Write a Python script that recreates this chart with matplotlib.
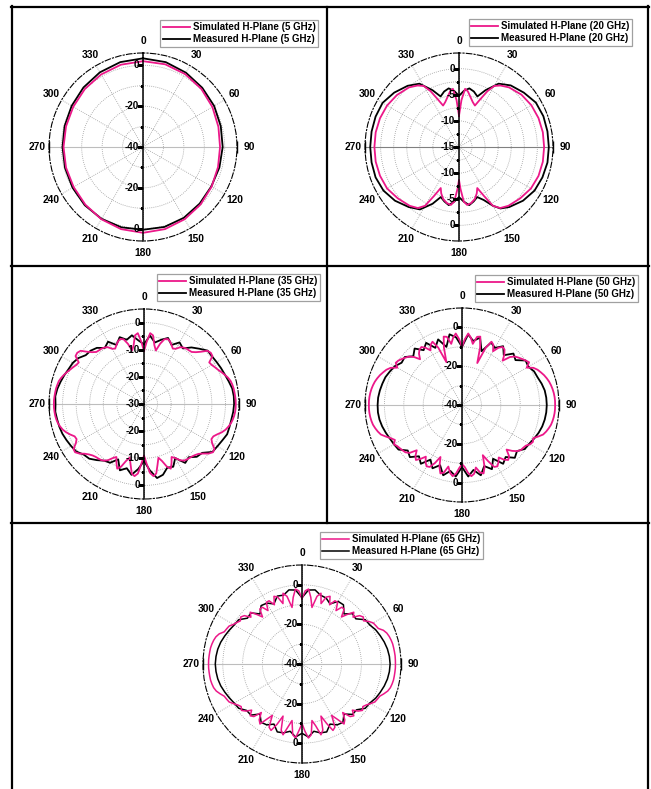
import numpy as np
import matplotlib
matplotlib.use("Agg")
import matplotlib.pyplot as plt
from matplotlib.lines import Line2D

plt.rcParams['font.family'] = ['Liberation Sans', 'DejaVu Sans']
plt.rcParams['font.weight'] = 'bold'

# ---------------------------------------------------------------- data
THETA_TICKS = [0, 30, 60, 90, 120, 150, 180, 210, 240, 270, 300, 330]

# 5 GHz (15 deg steps)
ANG_5 = [0, 15, 30, 45, 60, 75, 90, 105, 120, 135, 150, 165,
         180, 195, 210, 225, 240, 255, 270, 285, 300, 315, 330, 345]
SIM_5 = [2.0, 1.9, 1.2, 0.3, -0.8, -1.8, -2.3, -2.0, -1.2, -0.2, 0.8, 1.6,
         2.0, 1.6, 0.8, -0.1, -0.8, -1.0, -1.1, -1.0, -0.6, 0.2, 1.0, 1.7]
MEAS_5 = [3.4, 3.0, 2.0, 1.0, 0.2, -0.6, -1.0, -1.3, -1.4, -0.8, 0.0, 0.5,
          0.5, 0.7, 0.6, 0.3, -0.2, -0.5, -0.6, -0.3, 0.3, 1.2, 2.2, 3.0]

# 20 GHz
ANG_20_SIM = [0, 3, 6, 9, 13, 17, 21, 24, 27, 30, 34, 40, 50, 60, 70, 80, 90,
              100, 110, 120, 130, 140, 146, 150, 153, 156, 159, 163, 168, 172, 175, 178,
              180, 182, 185, 188, 192, 197, 201, 204, 207, 210, 214, 220, 230, 240,
              250, 260, 270, 280, 290, 300, 310, 320, 326, 330, 333, 336, 339, 343,
              347, 351, 354, 357]
SIM_20 = [-9.0, -6.0, -3.8, -4.2, -5.2, -6.0, -6.5, -5.0, -3.0, -1.5, -0.8, -0.1, 0.6, 1.0, 1.2, 1.3, 1.3,
          1.3, 1.2, 0.9, 0.3, -0.3, -0.9, -2.0, -4.5, -6.4, -5.5, -4.6, -4.0, -3.8, -4.5, -7.0,
          -8.7, -7.0, -4.5, -3.8, -4.0, -4.6, -5.5, -6.4, -4.5, -2.0, -0.9, -0.3, 0.3, 0.9,
          1.1, 1.2, 1.2, 1.2, 1.1, 0.9, 0.5, -0.1, -0.8, -1.5, -3.0, -5.0, -6.5, -6.0,
          -5.2, -4.2, -3.8, -6.0]
ANG_20_MEAS = [0, 5, 10, 15, 20, 25, 32, 40, 50, 60, 70, 80, 90, 100, 110, 120,
               130, 140, 146, 150, 155, 160, 165, 170, 175, 180, 185, 190, 195, 200,
               205, 212, 220, 230, 240, 250, 260, 270, 280, 290, 300, 310, 320, 328,
               335, 340, 345, 350, 355]
MEAS_20 = [-5.2, -4.2, -3.6, -4.0, -4.7, -3.0, -0.7, 0.4, 1.2, 2.0, 2.2, 2.2, 2.2, 2.2, 2.0, 1.7,
           1.0, 0.0, -0.8, -2.0, -3.8, -4.8, -4.2, -3.7, -4.5, -5.4, -4.5, -3.7, -4.2, -4.8,
           -3.0, -0.9, 0.0, 1.0, 1.7, 2.0, 2.0, 2.0, 2.0, 2.0, 1.9, 1.2, 0.3, -0.7,
           -3.0, -4.7, -4.0, -3.6, -4.2]

# fine / coarse angle grids for the rippled patterns
ANG_FINE = np.arange(0, 360, 2.5)
ANG_COARSE = np.arange(0, 360, 5)

# 35 GHz
SIM_35 = [-10.5, -7.0, -3.8, -4.5, -8.0, -9.8, -7.0, -5.0, -4.5, -5.0, -6.0, -7.0,
          -6.5, -5.2, -4.6, -4.3, -4.2, -4.0, -3.0, -1.5, 0.5, 1.0, 0.8, -1.5,
          -1.2, -0.6, 0.0, 0.8, 1.6, 2.4, 3.0, 3.3, 3.5, 3.6, 3.7, 3.8,
          3.8, 3.8, 3.7, 3.5, 3.2, 2.8, 2.2, 1.5, 0.5, -0.8, -1.8, -2.0,
          -1.0, 0.8, 1.0, 0.0, -1.6, -2.8, -3.4, -3.8, -4.0, -4.2, -4.5, -5.5,
          -7.0, -8.0, -6.0, -4.2, -5.5, -8.0, -9.5, -7.0, -4.0, -3.2, -4.5, -8.0,
          -11.0, -8.0, -4.3, -3.2, -4.0, -7.2, -9.6, -8.0, -5.5, -4.2, -6.0, -8.0,
          -7.0, -5.5, -4.5, -4.0, -3.8, -3.6, -3.2, -2.5, -1.5, 0.0, 1.0, 0.8,
          -1.0, -2.0, -1.8, -0.6, 0.5, 1.4, 2.0, 2.5, 2.8, 3.0, 3.1, 3.2,
          3.2, 3.2, 3.1, 3.0, 2.9, 2.7, 2.5, 2.0, 1.4, 0.7, 0.0, -0.6,
          -1.2, -1.5, 0.8, 1.0, 0.5, -1.5, -3.0, -4.0, -4.2, -4.3, -4.6, -5.2,
          -6.5, -7.0, -6.0, -5.0, -4.5, -5.0, -7.0, -9.8, -8.0, -4.5, -3.8, -7.0]
MEAS_35 = [-8.0, -4.7, -7.0, -5.5, -4.1, -6.0,
           -3.8, -5.0, -2.8, -1.2, 0.6, 0.6,
           0.9, 1.3, 1.7, 2.3, 3.0, 3.2,
           3.2, 3.0, 2.7, 2.6, 2.6, 1.8,
           1.2, 0.8, -2.0, -2.5, -4.4, -3.5,
           -7.0, -4.5, -5.0, -3.0, -2.3, -5.5,
           -9.0, -6.0, -3.5, -5.5, -4.0, -7.5,
           -5.0, -4.5, -3.0, -1.5, -1.0, 0.5,
           1.0, 1.5, 2.0, 2.3, 2.5, 2.8,
           2.6, 2.8, 2.4, 1.8, 1.2, 0.6,
           0.3, -0.5, -2.0, -2.2, -3.0, -4.8,
           -3.5, -6.0, -3.8, -5.5, -4.3, -6.5]

# 50 GHz
SIM_50 = [-10.0, -6.0, -3.0, -5.0, -8.0, -4.0, -3.5, -9.0, -17.0, -8.0, -4.0, -5.0,
          -8.0, -5.0, -3.5, -4.0, -6.0, -9.0, -5.0, -3.0, -2.0, -1.0, 0.0, 1.0,
          -1.5, 1.5, 3.0, 4.0, 5.0, 5.8, 6.5, 7.0, 7.4, 7.7, 7.9, 8.0,
          8.0, 8.0, 7.9, 7.7, 7.4, 7.0, 6.3, 5.5, 4.5, 2.5, 0.5, 1.2,
          0.5, -1.0, -1.5, -1.8, -3.0, -5.0, -7.5, -4.0, -3.0, -4.5, -7.0, -5.0,
          -3.5, -4.0, -8.0, -12.0, -6.0, -3.0, -4.0, -7.0, -4.0, -3.0, -5.0, -8.0,
          -9.5, -7.5, -4.5, -3.0, -4.5, -7.5, -4.0, -3.0, -6.0, -11.0, -7.0, -4.0,
          -3.5, -5.0, -7.5, -5.0, -3.0, -4.5, -7.0, -3.5, -2.0, -1.5, -1.0, -0.5,
          0.5, -1.0, 0.5, 2.5, 4.5, 5.5, 6.3, 7.0, 7.4, 7.7, 7.9, 8.0,
          8.0, 8.0, 7.9, 7.7, 7.4, 7.0, 6.5, 5.8, 5.0, 4.0, 3.0, 1.5,
          -1.5, 0.5, 0.0, -1.0, -2.0, -3.0, -5.0, -8.0, -5.5, -4.0, -3.5, -5.0,
          -7.5, -5.0, -4.0, -8.0, -16.5, -9.0, -3.5, -4.0, -8.0, -5.0, -3.0, -6.0]
MEAS_50 = [-10.0, -3.5, -6.5, -4.0, -10.5, -4.5,
           -6.0, -3.0, -6.5, -2.5, -4.0, 0.0,
           -0.5, 1.0, 1.5, 2.5, 3.3, 3.6,
           3.7, 3.6, 3.3, 2.8, 2.0, 1.0,
           0.0, -0.5, -3.0, -1.5, -5.0, -3.0,
           -8.0, -3.5, -6.5, -2.5, -6.0, -3.0,
           -8.0, -3.0, -5.5, -2.5, -7.0, -4.0,
           -7.5, -3.0, -5.5, -2.0, -3.5, 0.0,
           0.5, 1.0, 1.8, 2.6, 3.2, 3.5,
           3.5, 3.4, 3.0, 2.5, 2.0, 1.0,
           0.0, -2.0, -1.5, -4.5, -2.0, -5.5,
           -3.0, -7.5, -4.0, -9.0, -3.0, -5.0]

# 65 GHz
SIM_65 = [-7.0, -3.0, -2.0, -6.0, -11.0, -5.0, -3.0, -8.0, -4.0, -3.0, -7.0, -4.0,
          -4.0, -8.0, -5.0, -5.0, -9.0, -6.0, -3.0, -5.0, -2.0, -1.0, -2.0, 0.0,
          1.5, 2.0, 2.5, 4.5, 5.6, 6.2, 6.6, 6.9, 7.0, 7.1, 7.2, 7.2,
          7.2, 7.2, 7.1, 7.0, 6.9, 6.6, 6.2, 5.4, 4.0, 2.5, 2.0, 1.5,
          0.0, -1.5, -2.5, -1.5, -3.0, -5.5, -3.0, -4.0, -8.0, -4.5, -3.0, -7.0,
          -10.0, -4.0, -3.0, -7.5, -12.0, -5.0, -3.0, -8.0, -11.0, -4.0, -2.5, -6.0,
          -10.0, -6.5, -2.5, -4.0, -11.0, -7.5, -3.0, -5.0, -12.0, -7.0, -3.0, -4.0,
          -10.0, -7.0, -3.0, -4.5, -8.0, -4.0, -3.0, -5.5, -3.0, -1.5, -2.5, -1.5,
          0.0, 1.5, 2.0, 2.5, 4.0, 5.4, 6.2, 6.6, 6.9, 7.0, 7.1, 7.2,
          7.2, 7.2, 7.1, 7.0, 6.9, 6.6, 6.2, 5.6, 4.5, 2.5, 2.0, 1.5,
          0.0, -1.0, -2.0, -1.0, -2.0, -5.0, -3.0, -6.0, -9.0, -5.0, -5.0, -8.0,
          -4.0, -4.0, -7.0, -3.0, -4.0, -8.0, -3.0, -5.0, -11.0, -6.0, -2.0, -3.0]
MEAS_65 = [-6.5, -2.5, -2.0, -4.0, -4.5, -6.5,
           -3.5, -3.5, -7.0, -4.0, -4.5, -1.0,
           -0.5, 1.0, 2.0, 3.0, 3.8, 4.3,
           4.5, 4.3, 3.8, 3.0, 2.0, 1.0,
           -0.5, -1.0, -4.0, -4.0, -7.0, -4.0,
           -4.5, -6.5, -3.5, -4.0, -5.5, -3.0,
           -5.0, -3.0, -5.5, -4.0, -3.5, -6.5,
           -4.5, -4.0, -7.0, -3.5, -3.5, -1.0,
           -0.5, 0.5, 1.5, 2.5, 3.2, 3.6,
           3.8, 3.6, 3.2, 2.5, 1.5, 0.5,
           -0.5, -1.0, -4.0, -3.5, -7.0, -4.0,
           -4.5, -6.5, -3.5, -4.0, -2.0, -2.5]

# ---------------------------------------------------------------- figure
W, H = 651, 789
fig = plt.figure(figsize=(W / 100, H / 100), dpi=100)
PINK = '#ec1889'
GRID = dict(color='#9a9a9a', linestyle=(0, (1, 1.5)), linewidth=0.6)
FS = 7
FS_A = 7.4
FS_R = 7.1


def closed(a, v):
    a = list(a) + [360]
    v = list(v) + [v[0]]
    return np.deg2rad(a), np.array(v)


def panel(cx, cy, R, rmin, rmax, majors, minors, rings,
          sim, meas, freq, leg_xy, sim_lw=1.3, meas_lw=1.3, hcolor='#bdbdbd'):
    ax = fig.add_axes([(cx - R) / W, 1 - (cy + R) / H, 2 * R / W, 2 * R / H],
                      projection='polar')
    ax.set_theta_zero_location('N')
    ax.set_theta_direction(-1)
    ax.set_thetagrids(THETA_TICKS, labels=[''] * len(THETA_TICKS))
    ax.set_rgrids(rings, labels=[''] * len(rings))
    ax.xaxis.grid(True, **GRID)
    ax.yaxis.grid(True, **GRID)
    ax.spines['polar'].set_linestyle((0, (5, 2, 1, 2)))
    ax.spines['polar'].set_linewidth(0.8)

    # angular labels, centred ~11 px outside the outer circle
    for t in THETA_TICKS:
        tr = np.deg2rad(t)
        off = 12
        ax.annotate(str(t), xy=(tr, rmax), xytext=(off * np.sin(tr), off * np.cos(tr)),
                    textcoords='offset pixels', ha='center', va='center',
                    fontsize=FS_A, fontweight='bold', annotation_clip=False)

    # horizontal axis
    ax.plot([np.pi / 2, np.pi / 2], [rmin, rmax], color=hcolor, lw=0.8)
    ax.plot([3 * np.pi / 2, 3 * np.pi / 2], [rmin, rmax], color=hcolor, lw=0.8)
    ax.plot([np.pi / 2, 3 * np.pi / 2], [rmax, rmax], ls='none', marker='|',
            ms=8, mew=1.0, color='k', clip_on=False)

    # data
    a, v = closed(*meas)
    ax.plot(a, v, color='k', lw=meas_lw, zorder=4)
    a, v = closed(*sim)
    ax.plot(a, v, color=PINK, lw=sim_lw, zorder=5)

    # vertical radial axis
    ax.plot([0, 0], [rmin, rmax], color='k', lw=1.1, zorder=6, clip_on=False)
    ax.plot([np.pi, np.pi], [rmin, rmax], color='k', lw=1.1, zorder=6, clip_on=False)
    for th in (0, np.pi):
        ax.plot([th] * len(majors), majors, ls='none', marker=0, ms=4, mew=0.9,
                color='k', zorder=6)
        ax.plot([th] * len(minors), minors, ls='none', marker=0, ms=2.5, mew=0.8,
                color='k', zorder=6)
    for val in majors:
        lab = '%g' % val
        ths = (0,) if val == rmin else (0, np.pi)
        for th in ths:
            ax.annotate(lab, xy=(th, val), xytext=(-4, 0), textcoords='offset pixels',
                        ha='right', va='center', fontsize=FS_R, fontweight='bold', zorder=7)
    ax.set_ylim(rmin, rmax)

    handles = [Line2D([], [], color=PINK, lw=sim_lw), Line2D([], [], color='k', lw=meas_lw)]
    labels = ['Simulated H-Plane (%s GHz)' % freq, 'Measured H-Plane (%s GHz)' % freq]
    leg = fig.legend(handles, labels, loc='upper right',
                     bbox_to_anchor=(leg_xy[0] / W, 1 - leg_xy[1] / H),
                     frameon=True, fancybox=False, edgecolor='#a0a0a0', framealpha=1,
                     prop={'size': FS, 'weight': 'bold'}, borderpad=0.25,
                     handlelength=2.8, handletextpad=0.3, labelspacing=0.2,
                     borderaxespad=0)
    leg.get_frame().set_linewidth(0.9)
    return ax


panel(143, 147, 94, -40, 6, [0, -20, -40], [-10, -30], [-30, -20, -10, 0],
      (ANG_5, SIM_5), (ANG_5, MEAS_5), '5', (318, 20))
panel(459, 147, 94, -15, 3, [0, -5, -10, -15], [-2.5, -7.5, -12.5],
      [-12.5, -10, -7.5, -5, -2.5, 0],
      (ANG_20_SIM, SIM_20), (ANG_20_MEAS, MEAS_20), '20', (632, 19), hcolor='#808080')
panel(144, 404, 95, -30, 5, [0, -10, -20, -30], [-5, -15, -25],
      [-25, -20, -15, -10, -5, 0],
      (ANG_FINE, SIM_35), (ANG_COARSE, MEAS_35), '35', (320, 274))
panel(462, 405, 97, -40, 10, [0, -20, -40], [-10, -30], [-30, -20, -10, 0],
      (ANG_FINE, SIM_50), (ANG_COARSE, MEAS_50), '50', (638, 275))
panel(302, 664, 99, -40, 10, [0, -20, -40], [-10, -30], [-30, -20, -10, 0],
      (ANG_FINE, SIM_65), (ANG_COARSE, MEAS_65), '65', (483, 532),
      sim_lw=1.1, meas_lw=1.1)


# table borders
def hline(y, x0, x1):
    fig.add_artist(Line2D([x0 / W, x1 / W], [1 - y / H, 1 - y / H], color='k', lw=1.6,
                          transform=fig.transFigure))


def vline(x, y0, y1):
    fig.add_artist(Line2D([x / W, x / W], [1 - y0 / H, 1 - y1 / H], color='k', lw=1.6,
                          transform=fig.transFigure))


hline(7, 11, 649)
hline(266, 11, 649)
hline(523, 11, 649)
vline(12, 6, 789)
vline(648, 6, 789)
vline(327, 7, 523)

fig.savefig('out.png', dpi=100)
